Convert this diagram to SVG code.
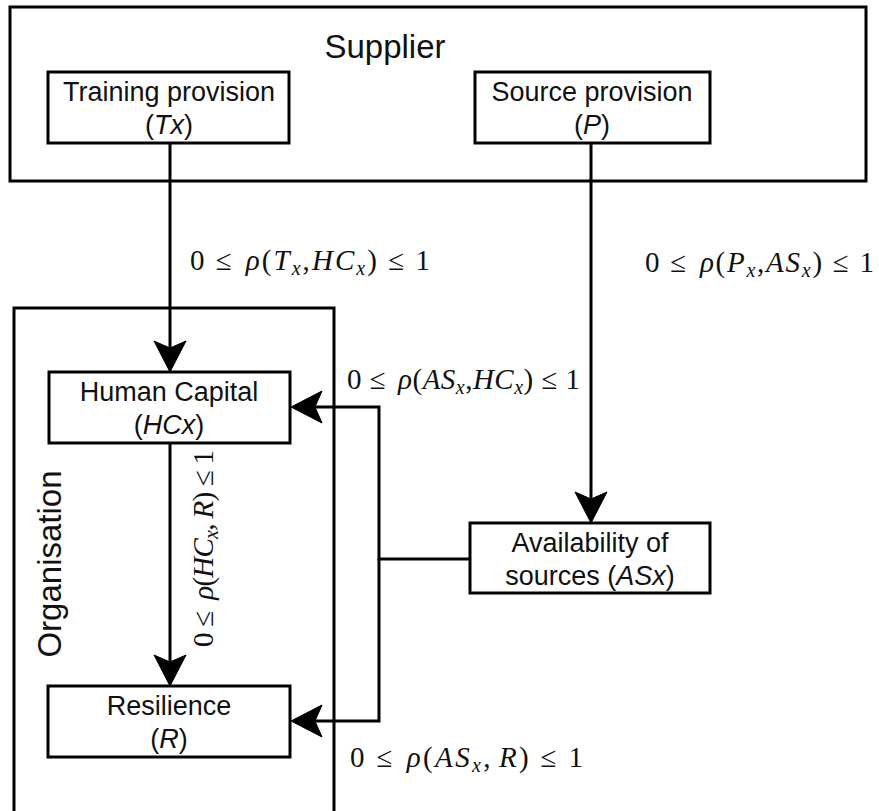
<svg xmlns="http://www.w3.org/2000/svg" width="879" height="811" viewBox="0 0 879 811">
  <defs>
    <style>
      .box { fill: #fff; stroke: #000; stroke-width: 3; }
      .frame { fill: none; stroke: #000; stroke-width: 3; }
      .edge { fill: none; stroke: #000; stroke-width: 3; }
      .lbl { font-family: "Liberation Sans", Arial, sans-serif; font-size: 27px; fill: #111; text-anchor: middle; }
      .title { font-family: "Liberation Sans", Arial, sans-serif; font-size: 33px; fill: #111; text-anchor: middle; }
      .math { font-family: "Liberation Serif", "Times New Roman", serif; font-size: 29px; fill: #111; }
      .it { font-style: italic; }
      .sub { font-style: italic; font-size: 20px; }
    </style>
    <!-- notched arrowhead, tip at origin, pointing along +x -->
    <path id="ah" fill="#000" stroke="#000" stroke-width="1" stroke-linejoin="miter" d="M0,0 L-31,-16 L-24,0 L-31,16 Z"/>
  </defs>

  <rect width="879" height="811" fill="#fff"/>

  <!-- Supplier container -->
  <g id="supplier">
    <rect class="frame" x="10" y="7" width="856" height="174"/>
    <text class="title" x="385" y="58">Supplier</text>
  </g>

  <!-- Organisation container (open at the bottom edge) -->
  <g id="organisation">
    <path class="frame" d="M14,815 L14,308 L334,308 L334,815"/>
    <text class="title" transform="translate(61,564) rotate(-90)" x="0" y="0">Organisation</text>
  </g>

  <!-- Connectors -->
  <g id="connectors">
    <path class="edge" d="M170,143 L170,350"/>
    <use href="#ah" transform="translate(170,372) rotate(90)"/>

    <path class="edge" d="M591,143 L591,501"/>
    <use href="#ah" transform="translate(591,523) rotate(90)"/>

    <path class="edge" d="M170,443 L170,664"/>
    <use href="#ah" transform="translate(170,686) rotate(90)"/>

    <path class="edge" d="M470,559 L379,559 L379,407 L313,407"/>
    <use href="#ah" transform="translate(291,407) rotate(180)"/>

    <path class="edge" d="M379,559 L379,721 L313,721"/>
    <use href="#ah" transform="translate(291,721) rotate(180)"/>

    <text class="math" x="190" y="270" textLength="240" lengthAdjust="spacing">0 ≤<tspan class="it" dx="12">ρ</tspan>(<tspan class="it">T</tspan><tspan class="sub" dy="5">x</tspan><tspan dy="-5">,</tspan><tspan class="it">HC</tspan><tspan class="sub" dy="5">x</tspan><tspan dy="-5">) ≤ 1</tspan></text>
    <text class="math" x="645" y="272" textLength="229" lengthAdjust="spacing">0 ≤<tspan class="it" dx="12">ρ</tspan>(<tspan class="it">P</tspan><tspan class="sub" dy="5">x</tspan><tspan dy="-5">,</tspan><tspan class="it">AS</tspan><tspan class="sub" dy="5">x</tspan><tspan dy="-5">) ≤ 1</tspan></text>
    <text class="math" x="347" y="389" textLength="233" lengthAdjust="spacing">0 ≤<tspan class="it" dx="12">ρ</tspan>(<tspan class="it">AS</tspan><tspan class="sub" dy="5">x</tspan><tspan dy="-5">,</tspan><tspan class="it">HC</tspan><tspan class="sub" dy="5">x</tspan><tspan dy="-5">) ≤ 1</tspan></text>
    <text class="math" x="350" y="767" textLength="233" lengthAdjust="spacing">0 ≤<tspan class="it" dx="12">ρ</tspan>(<tspan class="it">AS</tspan><tspan class="sub" dy="5">x</tspan><tspan dy="-5">,</tspan><tspan class="it" dx="6">R</tspan><tspan>) ≤ 1</tspan></text>
    <text class="math" transform="translate(213,647) rotate(-90)" x="0" y="0" textLength="197" lengthAdjust="spacing">0 ≤<tspan class="it" dx="12">ρ</tspan>(<tspan class="it">HC</tspan><tspan class="sub" dy="5">x</tspan><tspan dy="-5">,</tspan><tspan class="it" dx="6">R</tspan><tspan>) ≤ 1</tspan></text>
  </g>

  <!-- Nodes -->
  <g id="training">
    <rect class="box" x="48" y="72" width="241" height="71"/>
    <text class="lbl" x="169" y="101">Training provision</text>
    <text class="lbl" x="169" y="134">(<tspan class="it">Tx</tspan>)</text>
  </g>

  <g id="source">
    <rect class="box" x="475" y="72" width="235" height="71"/>
    <text class="lbl" x="592" y="101">Source provision</text>
    <text class="lbl" x="592" y="134">(<tspan class="it">P</tspan>)</text>
  </g>

  <g id="human-capital">
    <rect class="box" x="49" y="372" width="241" height="71"/>
    <text class="lbl" x="169" y="401">Human Capital</text>
    <text class="lbl" x="169" y="434">(<tspan class="it">HCx</tspan>)</text>
  </g>

  <g id="resilience">
    <rect class="box" x="48" y="686" width="242" height="71"/>
    <text class="lbl" x="169" y="715">Resilience</text>
    <text class="lbl" x="169" y="748">(<tspan class="it">R</tspan>)</text>
  </g>

  <g id="availability">
    <rect class="box" x="470" y="523" width="240" height="70"/>
    <text class="lbl" x="590" y="552">Availability of</text>
    <text class="lbl" x="590" y="585">sources (<tspan class="it">ASx</tspan>)</text>
  </g>
</svg>
